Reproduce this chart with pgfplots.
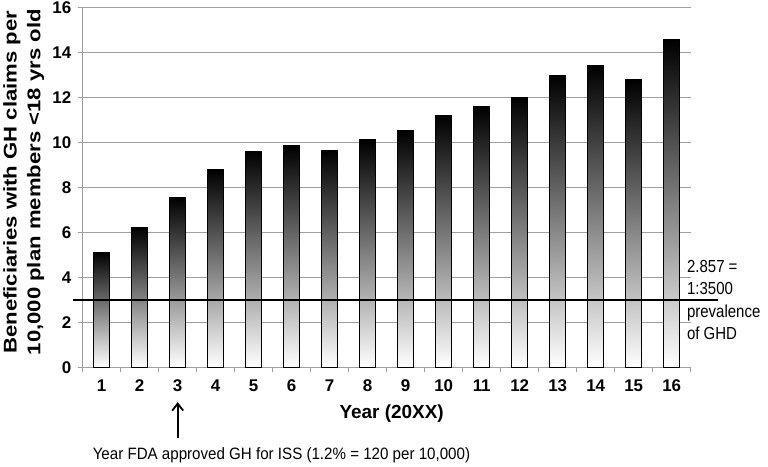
\documentclass[border=0pt]{standalone}
\usepackage{fontspec}
\setmainfont{Liberation Sans}
\usepackage{pgfplots}
\pgfplotsset{compat=1.18}
\usetikzlibrary{arrows.meta}
\pgfplotsset{mybar/.style={ybar, bar width=16bp, bar shift=0pt, draw=black, line width=1.1pt, top color=black, bottom color=white}}
\begin{document}
\begin{tikzpicture}
\begin{axis}[
  scale only axis, width=608bp, height=360bp,
  xmin=0.5, xmax=16.5, ymin=0, ymax=16,
  clip=false,
  axis x line*=bottom, axis y line*=left,
  axis line style={draw=gray!75, line width=0.8pt},
  tick align=outside,
  xtick={1,...,16},
  major x tick style={draw=none},
  minor xtick={0.5,1.5,...,16.5},
  minor x tick style={draw=gray!75, line width=0.8pt},
  minor tick length=5bp,
  ytick={0,2,...,16},
  major y tick style={draw=gray!75, line width=0.8pt},
  major tick length=5bp,
  ymajorgrids,
  major grid style={draw=gray!75, line width=0.8pt},
  /pgf/number format/assume math mode=true,
  ticklabel style={font=\bfseries\fontsize{17}{17}\selectfont},
  xticklabel style={yshift=-4bp},
  yticklabel style={xshift=-3bp},
  xlabel={Year (20XX)},
  xlabel style={font=\bfseries\fontsize{19}{19}\selectfont, at={(axis description cs:0.5,0)}, anchor=center, yshift=-46bp, xshift=5bp},
  ylabel={Beneficiaries with GH claims per\\10,000 plan members <18 yrs old},
  ylabel style={font=\bfseries\fontsize{18.5}{24}\selectfont, align=center, at={(axis description cs:-0.097,0.514)}, anchor=center, xscale=1.2},
]
\addplot[mybar] coordinates {(1,5.12)};
\addplot[mybar] coordinates {(2,6.2)};
\addplot[mybar] coordinates {(3,7.56)};
\addplot[mybar] coordinates {(4,8.8)};
\addplot[mybar] coordinates {(5,9.61)};
\addplot[mybar] coordinates {(6,9.85)};
\addplot[mybar] coordinates {(7,9.64)};
\addplot[mybar] coordinates {(8,10.12)};
\addplot[mybar] coordinates {(9,10.53)};
\addplot[mybar] coordinates {(10,11.2)};
\addplot[mybar] coordinates {(11,11.58)};
\addplot[mybar] coordinates {(12,12.01)};
\addplot[mybar] coordinates {(13,12.98)};
\addplot[mybar] coordinates {(14,13.41)};
\addplot[mybar] coordinates {(15,12.79)};
\addplot[mybar] coordinates {(16,14.57)};
\addplot[black, line width=2.6bp, mark=none] coordinates {(0.245,3.0) (17.22,3.0)};
\node[anchor=west, align=left, font=\fontsize{17.5}{22.5}\selectfont, inner sep=0pt, xscale=0.86] at (axis cs:16.4,3.0)
  {2.857 =\\1:3500\\prevalence\\of GHD};
\draw[-{Straight Barb[length=7bp,width=11bp]}, line width=1.8bp] (axis cs:3,-3.15) -- (axis cs:3,-1.55);
\node[anchor=center, font=\fontsize{16.5}{16.5}\selectfont, inner sep=0pt, xscale=0.92] at (axis cs:5.73,-3.9)
  {Year FDA approved GH for ISS (1.2\% = 120 per 10,000)};
\end{axis}
\pgfresetboundingbox
\path (-82.7bp,-99.7bp) rectangle (685.3bp,367.3bp);
\end{tikzpicture}
\end{document}
